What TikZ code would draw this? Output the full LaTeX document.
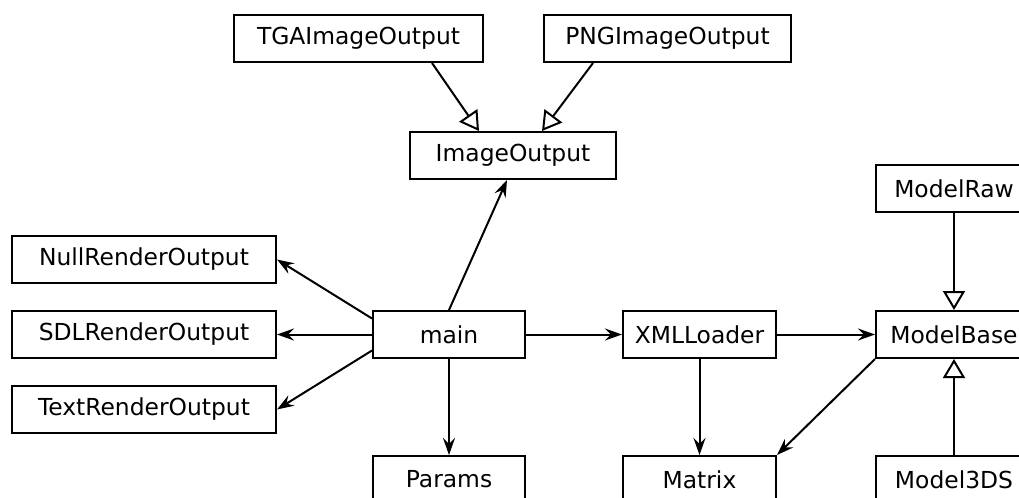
\documentclass[tikz,border=0pt]{standalone}
\usepackage{fontspec}
\setmainfont{DejaVu Sans}
\usetikzlibrary{arrows.meta}

\tikzset{
    classbox/.style={draw, line width=1pt, minimum height=23.5pt, inner sep=0pt,
        font=\fontsize{11.7}{14}\selectfont},
    uses/.style={line width=1pt, -{Stealth[length=8.5pt,width=6pt,inset=3pt]}},
    inherits/.style={line width=1pt, -{Triangle[open,length=9.5pt,width=11pt]}}
}

\begin{document}
\begin{tikzpicture}[x=0.5pt, y=-0.5pt]
    \useasboundingbox (0, 0) rectangle (1019, 498);
    \clip (0, 0) rectangle (1019, 498);

    % Image outputs
    \node [classbox, minimum width=124.5pt] (tga) at (358.5, 38.5) {TGAImageOutput};
    \node [classbox, minimum width=123.5pt] (png) at (667.5, 38.5) {PNGImageOutput};
    \node [classbox, minimum width=103pt] (imgout) at (513, 155.5) {ImageOutput};

    % Render outputs
    \node [classbox, minimum width=132pt] (nullout) at (144, 259.5) {NullRenderOutput};
    \node [classbox, minimum width=132pt] (sdlout) at (144, 334.5) {SDLRenderOutput};
    \node [classbox, minimum width=132pt] (textout) at (144, 409.5) {TextRenderOutput};

    % Middle row
    \node [classbox, minimum width=76pt] (main) at (449, 334.5) {main};
    \node [classbox, minimum width=76.5pt] (xml) at (699.5, 334.5) {XMLLoader};
    \node [classbox, minimum width=78pt] (modelbase) at (954, 334.5) {ModelBase};
    \node [classbox, minimum width=78pt] (modelraw) at (954, 188.5) {ModelRaw};

    % Bottom row
    \node [classbox, minimum width=76pt] (params) at (449, 479.5) {Params};
    \node [classbox, minimum width=76.5pt] (matrix) at (699.5, 479.5) {Matrix};
    \node [classbox, minimum width=78pt] (model3ds) at (954, 479.5) {Model3DS};

    % Inheritance
    \draw [inherits] ([xshift=36.75pt]tga.south) -- ([xshift=-17pt]imgout.north);
    \draw [inherits] ([xshift=-37.25pt]png.south) -- ([xshift=14.5pt]imgout.north);
    \draw [inherits] (modelraw) -- (modelbase);
    \draw [inherits] (model3ds) -- (modelbase);

    % Usage
    \draw [uses] (main.north) -- ([xshift=-3pt]imgout.south);
    \draw [uses] ([yshift=8pt]main.west) -- (nullout.east);
    \draw [uses] (main.west) -- (sdlout.east);
    \draw [uses] ([yshift=-8pt]main.west) -- (textout.east);
    \draw [uses] (main) -- (params);
    \draw [uses] (main) -- (xml);
    \draw [uses] (xml) -- (modelbase);
    \draw [uses] (xml) -- (matrix);
    \draw [uses] (modelbase.south west) -- (matrix.north east);
\end{tikzpicture}
\end{document}
